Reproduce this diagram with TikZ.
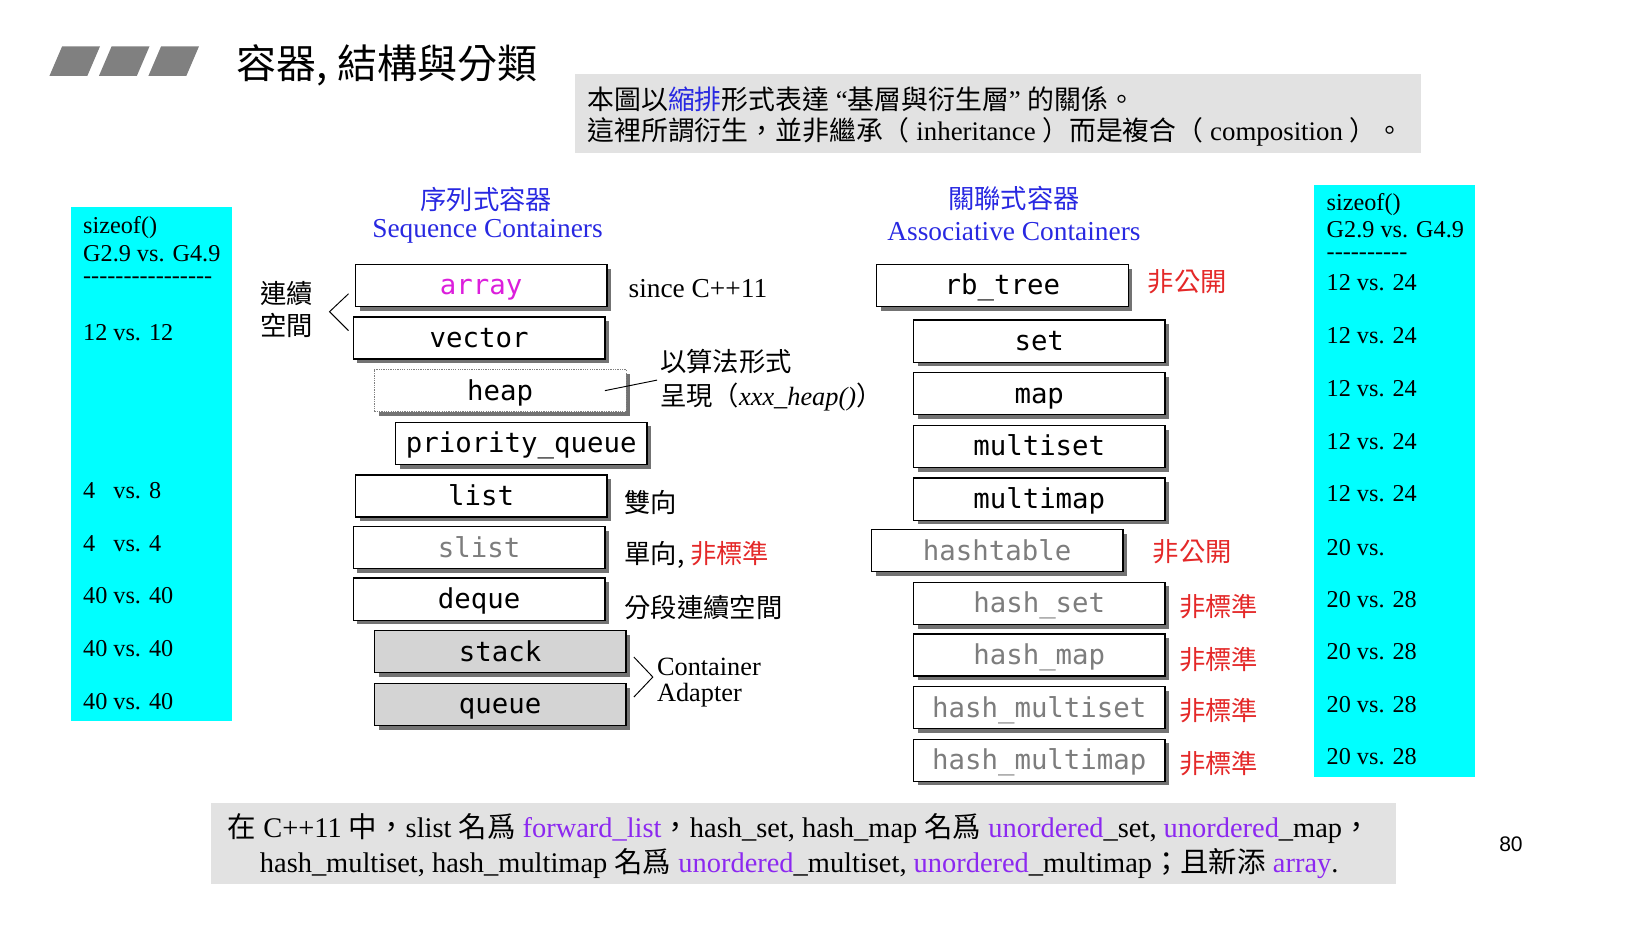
\documentclass[tikz,border=0pt]{standalone}
\usepackage{fontspec}
\setmainfont{Liberation Serif}
\newfontfamily\cjk{Noto Sans CJK TC}
\newfontfamily\monofont{DejaVu Sans Mono}
\newfontfamily\numfont{Liberation Sans}
\usetikzlibrary{shadows}
\newcommand\setfs[1]{\fontsize{#1}{#1}\selectfont}
% a row of separate hyphens (no en/em-dash ligatures)
\newcommand\hyphenrow[1]{\foreach \n in {1,...,#1}{-{}}}
\definecolor{headblue}{RGB}{40,40,225}
\definecolor{boxcyan}{RGB}{0,255,255}
\definecolor{notegray}{RGB}{226,226,226}
\definecolor{warnred}{RGB}{228,40,40}
\definecolor{keypurple}{RGB}{140,40,240}
\definecolor{namemagenta}{RGB}{220,30,220}
\definecolor{dimtext}{RGB}{125,125,125}
\definecolor{adaptfill}{RGB}{212,212,212}
\definecolor{barfill}{RGB}{128,128,128}
\begin{document}
\begin{tikzpicture}[x=1pt,y=-1pt,
  every node/.style={inner sep=0pt, outer sep=0pt},
  cbox/.style={draw=black, line width=1.2pt, fill=white,
    minimum width=239pt, minimum height=40pt,
    text height=21pt, text depth=3pt,
    font=\monofont\setfs{26},
    drop shadow={shadow xshift=4pt, shadow yshift=-4pt, fill=black!55, opacity=1}},
  dotbox/.style={cbox, draw=gray, densely dotted, line width=0.9pt},
  adapt/.style={cbox, fill=adaptfill},
  dim/.style={text=dimtext},
  lbl/.style={anchor=west, font=\setfs{26}},
  cjklbl/.style={anchor=west, font=\cjk\setfs{25}},
  redlbl/.style={anchor=west, font=\cjk\setfs{25}, text=warnred},
  sz/.style={anchor=west, font=\setfs{23}},
  head/.style={font=\setfs{26}, text=headblue},
  bracket/.style={line width=0.9pt, line join=miter}
]
\useasboundingbox (0,0) rectangle (1568,878);

% title bar with three slanted blocks
\foreach \i in {0,1,2}
  \fill[barfill] ({47+47*\i},72) -- ({59+47*\i},44) -- ({95+47*\i},44) -- ({83+47*\i},72) -- cycle;
\node[anchor=west, font=\cjk\setfs{38}] (title) at (225,62) {容器, 結構與分類};

% explanatory note
\fill[notegray] (546,70) rectangle (1350,145);
\node[anchor=west, font=\setfs{25.5}] (note1) at (558,94)
  {{\cjk 本圖以}{\cjk\color{headblue}縮排}{\cjk 形式表達} “{\cjk 基層與衍生層}” {\cjk 的關係。}};
\node[anchor=west, font=\setfs{25.5}] (note2) at (558,125)
  {{\cjk 這裡所謂衍生，並非繼承（} inheritance {\cjk ）而是複合（} composition {\cjk ）。}};

% sizeof columns
\fill[boxcyan] (67,197) rectangle (220,685);
\node[sz] (ls0) at (79,216) {sizeof()};
\node[sz] (ls1) at (79,241) {G2.9 vs. G4.9};
\node[sz] (ls2) at (79,266) {\hyphenrow{16}};
\node[sz] (ls3) at (79,316) {12 vs. 12};
\node[sz] (ls4) at (79,466) {4\hphantom{0} vs. 8};
\node[sz] (ls5) at (79,516) {4\hphantom{0} vs. 4};
\node[sz] (ls6) at (79,566) {40 vs. 40};
\node[sz] (ls7) at (79,616) {40 vs. 40};
\node[sz] (ls8) at (79,666) {40 vs. 40};

\fill[boxcyan] (1248,176) rectangle (1401,738);
\node[sz] (rs0) at (1260,194) {sizeof()};
\node[sz] (rs1) at (1260,218) {G2.9 vs. G4.9};
\node[sz] (rs2) at (1260,243) {\hyphenrow{10}};
\foreach \yy/\t [count=\k] in {268/12 vs. 24, 319/12 vs. 24, 369/12 vs. 24, 419/12 vs. 24, 469/12 vs. 24,
    520/20 vs., 569/20 vs. 28, 619/20 vs. 28, 669/20 vs. 28, 719/20 vs. 28}
  \node[sz] (rv\k) at (1260,\yy) {\t};

% headers
\node[head, font=\cjk\setfs{25}] (seqzh) at (462,189) {序列式容器};
\node[head] (seqen) at (463,220) {Sequence Containers};
\node[head, font=\cjk\setfs{25}] (asszh) at (963,189) {關聯式容器};
\node[head] (assen) at (963,220) {Associative Containers};

% sequence containers
\node[cbox, text=namemagenta] (array) at (457,271) {array};
\node[cbox] (vector) at (455,321) {vector};
\node[dotbox] (heap) at (475,371) {heap};
\node[cbox] (pq) at (495,421) {priority\_queue};
\node[cbox] (list) at (457,471) {list};
\node[cbox, dim] (slist) at (455,520) {slist};
\node[cbox] (deque) at (455,569) {deque};
\node[adapt] (stack) at (475,619) {stack};
\node[adapt] (queue) at (475,669) {queue};

% associative containers
\node[cbox] (rbtree) at (952,271) {rb\_tree};
\node[cbox] (set) at (987,324) {set};
\node[cbox] (map) at (987,374) {map};
\node[cbox] (mset) at (987,424) {multiset};
\node[cbox] (mmap) at (987,474) {multimap};
\node[cbox, dim] (htab) at (947,523) {hashtable};
\node[cbox, dim] (hset) at (987,573) {hash\_set};
\node[cbox, dim] (hmap) at (987,622) {hash\_map};
\node[cbox, dim] (hmset) at (987,672) {hash\_multiset};
\node[cbox, dim] (hmmap) at (987,722) {hash\_multimap};

% remarks beside the sequence containers
\node[anchor=west, font=\cjk\setfs{25}, align=left] (contig) at (247,294) {連續\\[6pt]空間};
\draw[bracket] (331,279) -- (313,296) -- (331,314);
\node[lbl] (since) at (597,274) {since C++11};
\node[anchor=west, font=\setfs{25}, align=left] (algo) at (627,361)
  {{\cjk 以算法形式}\\[7pt]{\cjk 呈現（}\textit{xxx\_heap()}{\cjk ）}};
\draw[line width=0.9pt] ([xshift=-20pt]heap.east) -- ([xshift=-3pt]algo.west);
\node[cjklbl] (bidir) at (593,477) {雙向};
\node[cjklbl] (unidir) at (593,527) {單向, {\color{warnred}非標準}};
\node[cjklbl] (segm) at (593,577) {分段連續空間};
\draw[bracket] (602,624) -- (620,643) -- (602,662);
\node[anchor=west, font=\setfs{25}, align=left] (adapter) at (624,648) {Container\\[0pt]Adapter};

% remarks beside the associative containers
\node[redlbl] (rbnote) at (1090,268) {非公開};
\node[redlbl] (htnote) at (1095,524) {非公開};
\node[redlbl] (hsnote) at (1120,576) {非標準};
\node[redlbl] (hmnote) at (1120,626) {非標準};
\node[redlbl] (hmsnote) at (1120,675) {非標準};
\node[redlbl] (hmmnote) at (1120,725) {非標準};

% footnote on C++11 names
\fill[notegray] (200,763) rectangle (1326,840);
\node[font=\setfs{27}] (foot1) at (759,787)
  {{\cjk 在} C++11 {\cjk 中，}slist {\cjk 名爲} {\color{keypurple}forward\_list}{\cjk ，}hash\_set, hash\_map {\cjk 名爲} {\color{keypurple}unordered}\_set, {\color{keypurple}unordered}\_map{\cjk ，}};
\node[font=\setfs{27}] (foot2) at (759,820)
  {hash\_multiset, hash\_multimap {\cjk 名爲} {\color{keypurple}unordered}\_multiset, {\color{keypurple}unordered}\_multimap{\cjk ；且新添} {\color{keypurple}array}.};

\node[font=\numfont\setfs{20}] (page) at (1435,802) {80};
\end{tikzpicture}
\end{document}
